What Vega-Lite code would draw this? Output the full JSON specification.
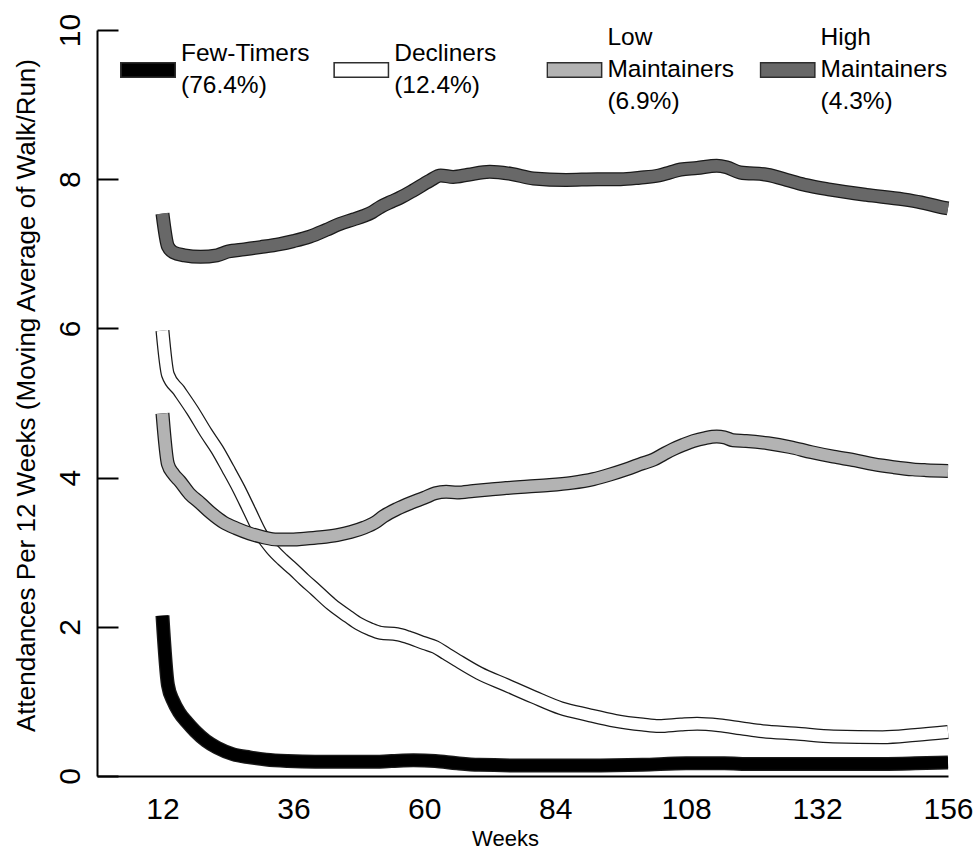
{
  "$schema": "https://vega.github.io/schema/vega-lite/v6.json",
  "width": 851,
  "height": 746,
  "autosize": {"type": "none"},
  "padding": {"left": 97, "top": 30, "right": 27, "bottom": 73},
  "background": "white",
  "config": {
    "view": {"stroke": null},
    "font": "Liberation Sans",
    "axis": {"grid": false, "labelFont": "Liberation Sans", "titleFont": "Liberation Sans", "labelColor": "#000", "titleColor": "#000", "domainColor": "#000", "tickColor": "#000", "titleFontWeight": "normal"},
    "legend": {"padding": 0, "titlePadding": 0},
    "style": {"guide-label": {"lineHeight": 16, "dy": -32}}
  },
  "data": {"values": [
    {"group": "Few-Timers", "week": 12, "value": 2.15},
    {"group": "Few-Timers", "week": 13, "value": 1.22},
    {"group": "Few-Timers", "week": 14, "value": 1.0},
    {"group": "Few-Timers", "week": 15, "value": 0.86},
    {"group": "Few-Timers", "week": 16.5, "value": 0.72},
    {"group": "Few-Timers", "week": 18, "value": 0.6},
    {"group": "Few-Timers", "week": 20, "value": 0.47},
    {"group": "Few-Timers", "week": 22, "value": 0.38},
    {"group": "Few-Timers", "week": 25, "value": 0.29},
    {"group": "Few-Timers", "week": 28, "value": 0.25},
    {"group": "Few-Timers", "week": 31, "value": 0.22},
    {"group": "Few-Timers", "week": 35, "value": 0.2},
    {"group": "Few-Timers", "week": 40, "value": 0.19},
    {"group": "Few-Timers", "week": 45, "value": 0.19},
    {"group": "Few-Timers", "week": 50, "value": 0.19},
    {"group": "Few-Timers", "week": 54, "value": 0.2},
    {"group": "Few-Timers", "week": 58, "value": 0.21},
    {"group": "Few-Timers", "week": 62, "value": 0.2},
    {"group": "Few-Timers", "week": 66, "value": 0.17},
    {"group": "Few-Timers", "week": 70, "value": 0.15},
    {"group": "Few-Timers", "week": 80, "value": 0.14},
    {"group": "Few-Timers", "week": 90, "value": 0.14},
    {"group": "Few-Timers", "week": 100, "value": 0.15},
    {"group": "Few-Timers", "week": 108, "value": 0.17},
    {"group": "Few-Timers", "week": 115, "value": 0.17},
    {"group": "Few-Timers", "week": 120, "value": 0.16},
    {"group": "Few-Timers", "week": 130, "value": 0.16},
    {"group": "Few-Timers", "week": 140, "value": 0.16},
    {"group": "Few-Timers", "week": 150, "value": 0.17},
    {"group": "Few-Timers", "week": 156, "value": 0.18},

    {"group": "Decliners", "week": 12, "value": 5.97},
    {"group": "Decliners", "week": 13, "value": 5.38},
    {"group": "Decliners", "week": 15, "value": 5.17},
    {"group": "Decliners", "week": 17.5, "value": 4.9},
    {"group": "Decliners", "week": 20, "value": 4.6},
    {"group": "Decliners", "week": 22, "value": 4.38},
    {"group": "Decliners", "week": 24, "value": 4.12},
    {"group": "Decliners", "week": 26, "value": 3.85},
    {"group": "Decliners", "week": 28, "value": 3.55},
    {"group": "Decliners", "week": 30, "value": 3.25},
    {"group": "Decliners", "week": 32, "value": 3.05},
    {"group": "Decliners", "week": 34, "value": 2.9},
    {"group": "Decliners", "week": 36, "value": 2.77},
    {"group": "Decliners", "week": 38, "value": 2.63},
    {"group": "Decliners", "week": 40, "value": 2.5},
    {"group": "Decliners", "week": 43, "value": 2.3},
    {"group": "Decliners", "week": 46, "value": 2.14},
    {"group": "Decliners", "week": 48, "value": 2.04},
    {"group": "Decliners", "week": 50, "value": 1.97},
    {"group": "Decliners", "week": 52, "value": 1.92},
    {"group": "Decliners", "week": 55, "value": 1.9},
    {"group": "Decliners", "week": 57, "value": 1.86},
    {"group": "Decliners", "week": 60, "value": 1.78},
    {"group": "Decliners", "week": 62, "value": 1.73},
    {"group": "Decliners", "week": 64, "value": 1.64},
    {"group": "Decliners", "week": 66, "value": 1.55},
    {"group": "Decliners", "week": 70, "value": 1.38},
    {"group": "Decliners", "week": 75, "value": 1.22},
    {"group": "Decliners", "week": 80, "value": 1.06},
    {"group": "Decliners", "week": 85, "value": 0.91},
    {"group": "Decliners", "week": 90, "value": 0.82},
    {"group": "Decliners", "week": 95, "value": 0.74},
    {"group": "Decliners", "week": 100, "value": 0.69},
    {"group": "Decliners", "week": 103, "value": 0.67},
    {"group": "Decliners", "week": 107, "value": 0.69},
    {"group": "Decliners", "week": 110, "value": 0.7},
    {"group": "Decliners", "week": 114, "value": 0.68},
    {"group": "Decliners", "week": 118, "value": 0.64},
    {"group": "Decliners", "week": 122, "value": 0.6},
    {"group": "Decliners", "week": 128, "value": 0.57},
    {"group": "Decliners", "week": 135, "value": 0.53},
    {"group": "Decliners", "week": 144, "value": 0.52},
    {"group": "Decliners", "week": 150, "value": 0.55},
    {"group": "Decliners", "week": 156, "value": 0.59},

    {"group": "Low Maintainers", "week": 12, "value": 4.86},
    {"group": "Low Maintainers", "week": 13, "value": 4.18},
    {"group": "Low Maintainers", "week": 14, "value": 4.05},
    {"group": "Low Maintainers", "week": 15.2, "value": 3.95},
    {"group": "Low Maintainers", "week": 17, "value": 3.78},
    {"group": "Low Maintainers", "week": 18.9, "value": 3.66},
    {"group": "Low Maintainers", "week": 21, "value": 3.52},
    {"group": "Low Maintainers", "week": 23.2, "value": 3.4},
    {"group": "Low Maintainers", "week": 25.5, "value": 3.32},
    {"group": "Low Maintainers", "week": 28, "value": 3.25},
    {"group": "Low Maintainers", "week": 30.5, "value": 3.2},
    {"group": "Low Maintainers", "week": 33, "value": 3.17},
    {"group": "Low Maintainers", "week": 36, "value": 3.17},
    {"group": "Low Maintainers", "week": 38, "value": 3.18},
    {"group": "Low Maintainers", "week": 41, "value": 3.2},
    {"group": "Low Maintainers", "week": 44, "value": 3.23},
    {"group": "Low Maintainers", "week": 46.5, "value": 3.27},
    {"group": "Low Maintainers", "week": 49, "value": 3.33},
    {"group": "Low Maintainers", "week": 51, "value": 3.4},
    {"group": "Low Maintainers", "week": 52.5, "value": 3.48},
    {"group": "Low Maintainers", "week": 55, "value": 3.58},
    {"group": "Low Maintainers", "week": 57.5, "value": 3.66},
    {"group": "Low Maintainers", "week": 60, "value": 3.73},
    {"group": "Low Maintainers", "week": 62, "value": 3.79},
    {"group": "Low Maintainers", "week": 64, "value": 3.81},
    {"group": "Low Maintainers", "week": 66, "value": 3.8},
    {"group": "Low Maintainers", "week": 69, "value": 3.82},
    {"group": "Low Maintainers", "week": 72, "value": 3.84},
    {"group": "Low Maintainers", "week": 75, "value": 3.86},
    {"group": "Low Maintainers", "week": 79, "value": 3.88},
    {"group": "Low Maintainers", "week": 83, "value": 3.9},
    {"group": "Low Maintainers", "week": 87, "value": 3.93},
    {"group": "Low Maintainers", "week": 91, "value": 3.98},
    {"group": "Low Maintainers", "week": 94, "value": 4.04},
    {"group": "Low Maintainers", "week": 97, "value": 4.11},
    {"group": "Low Maintainers", "week": 100, "value": 4.19},
    {"group": "Low Maintainers", "week": 102, "value": 4.24},
    {"group": "Low Maintainers", "week": 104, "value": 4.32},
    {"group": "Low Maintainers", "week": 105.6, "value": 4.38},
    {"group": "Low Maintainers", "week": 107.5, "value": 4.44},
    {"group": "Low Maintainers", "week": 109.3, "value": 4.49},
    {"group": "Low Maintainers", "week": 111.5, "value": 4.53},
    {"group": "Low Maintainers", "week": 113.6, "value": 4.55},
    {"group": "Low Maintainers", "week": 115, "value": 4.54},
    {"group": "Low Maintainers", "week": 116.6, "value": 4.5},
    {"group": "Low Maintainers", "week": 119, "value": 4.49},
    {"group": "Low Maintainers", "week": 123, "value": 4.46},
    {"group": "Low Maintainers", "week": 127, "value": 4.41},
    {"group": "Low Maintainers", "week": 131, "value": 4.34},
    {"group": "Low Maintainers", "week": 135, "value": 4.28},
    {"group": "Low Maintainers", "week": 139, "value": 4.23},
    {"group": "Low Maintainers", "week": 142.3, "value": 4.18},
    {"group": "Low Maintainers", "week": 146, "value": 4.14},
    {"group": "Low Maintainers", "week": 149.6, "value": 4.11},
    {"group": "Low Maintainers", "week": 152, "value": 4.1},
    {"group": "Low Maintainers", "week": 156, "value": 4.09},

    {"group": "High Maintainers", "week": 12, "value": 7.54},
    {"group": "High Maintainers", "week": 13, "value": 7.1},
    {"group": "High Maintainers", "week": 14, "value": 7.02},
    {"group": "High Maintainers", "week": 16, "value": 6.98},
    {"group": "High Maintainers", "week": 19, "value": 6.96},
    {"group": "High Maintainers", "week": 22, "value": 6.98},
    {"group": "High Maintainers", "week": 24, "value": 7.03},
    {"group": "High Maintainers", "week": 27, "value": 7.06},
    {"group": "High Maintainers", "week": 30, "value": 7.09},
    {"group": "High Maintainers", "week": 33.5, "value": 7.13},
    {"group": "High Maintainers", "week": 36, "value": 7.17},
    {"group": "High Maintainers", "week": 39, "value": 7.23},
    {"group": "High Maintainers", "week": 42, "value": 7.32},
    {"group": "High Maintainers", "week": 44.5, "value": 7.4},
    {"group": "High Maintainers", "week": 47, "value": 7.46},
    {"group": "High Maintainers", "week": 49, "value": 7.51},
    {"group": "High Maintainers", "week": 50.5, "value": 7.56},
    {"group": "High Maintainers", "week": 52, "value": 7.63},
    {"group": "High Maintainers", "week": 54, "value": 7.7},
    {"group": "High Maintainers", "week": 55.5, "value": 7.75},
    {"group": "High Maintainers", "week": 58, "value": 7.85},
    {"group": "High Maintainers", "week": 61, "value": 7.98},
    {"group": "High Maintainers", "week": 63, "value": 8.05},
    {"group": "High Maintainers", "week": 65.3, "value": 8.03},
    {"group": "High Maintainers", "week": 68, "value": 8.06},
    {"group": "High Maintainers", "week": 72, "value": 8.1},
    {"group": "High Maintainers", "week": 76, "value": 8.07},
    {"group": "High Maintainers", "week": 80, "value": 8.01},
    {"group": "High Maintainers", "week": 86, "value": 7.99},
    {"group": "High Maintainers", "week": 91.7, "value": 8.0},
    {"group": "High Maintainers", "week": 96, "value": 8.0},
    {"group": "High Maintainers", "week": 99.5, "value": 8.02},
    {"group": "High Maintainers", "week": 103, "value": 8.05},
    {"group": "High Maintainers", "week": 105, "value": 8.09},
    {"group": "High Maintainers", "week": 107, "value": 8.13},
    {"group": "High Maintainers", "week": 110, "value": 8.15},
    {"group": "High Maintainers", "week": 113.6, "value": 8.18},
    {"group": "High Maintainers", "week": 115.4, "value": 8.16},
    {"group": "High Maintainers", "week": 117.9, "value": 8.09},
    {"group": "High Maintainers", "week": 122.8, "value": 8.06},
    {"group": "High Maintainers", "week": 127, "value": 7.98},
    {"group": "High Maintainers", "week": 130, "value": 7.92},
    {"group": "High Maintainers", "week": 134.4, "value": 7.86},
    {"group": "High Maintainers", "week": 141, "value": 7.79},
    {"group": "High Maintainers", "week": 147.8, "value": 7.73},
    {"group": "High Maintainers", "week": 151, "value": 7.69},
    {"group": "High Maintainers", "week": 154.5, "value": 7.63},
    {"group": "High Maintainers", "week": 156, "value": 7.61}
  ]},
  "encoding": {
    "x": {
      "field": "week", "type": "quantitative",
      "scale": {"domain": [0, 156], "nice": false, "zero": false},
      "axis": {
        "values": [12, 36, 60, 84, 108, 132, 156],
        "ticks": false, "domainWidth": 2,
        "labelFontSize": 30, "labelPadding": 50, "labelFlush": false, "labelOverlap": false,
        "title": "Weeks", "titleFontSize": 22, "titlePadding": -30, "titleX": 408, "titleY": 52, "titleBaseline": "top"
      }
    },
    "y": {
      "field": "value", "type": "quantitative",
      "scale": {"domain": [0, 10], "nice": false, "zero": false},
      "axis": {
        "values": [0, 2, 4, 6, 8, 10],
        "tickSize": -21, "tickWidth": 2, "domainWidth": 2,
        "labelAngle": -90, "labelAlign": "center", "labelBaseline": "bottom",
        "labelFontSize": 30, "labelPadding": 1, "labelOverlap": false, "labelFlush": false,
        "title": "Attendances Per 12 Weeks (Moving Average of Walk/Run)",
        "titleFontSize": 26, "titleX": -58, "titleY": 365, "titleAlign": "center", "titleBaseline": "bottom", "titleAngle": 270
      }
    },
    "stroke": {
      "field": "group", "type": "nominal",
      "scale": {"domain": ["Few-Timers", "Decliners", "Low Maintainers", "High Maintainers"], "range": ["#000000", "#ffffff", "#b3b3b3", "#686868"]},
      "legend": null
    }
  },
  "layer": [
    {
      "transform": [{"filter": "datum.week === 12"}],
      "mark": {"type": "point", "filled": true, "opacity": 0, "size": 1},
      "encoding": {
        "stroke": {"value": "transparent"},
        "fill": {
          "field": "group", "type": "nominal",
          "scale": {"domain": ["High Maintainers", "Low Maintainers", "Decliners", "Few-Timers"], "range": ["#2e2e2e", "#2e2e2e", "#2e2e2e", "#2e2e2e"]},
          "legend": {
            "values": ["Few-Timers", "Decliners", "Low Maintainers", "High Maintainers"],
            "orient": "none", "legendX": 23, "legendY": -10, "zindex": 0,
            "direction": "horizontal", "columns": 4, "gridAlign": "all", "columnPadding": 25.2,
            "title": null, "clipHeight": 100,
            "symbolType": "M-1,-0.2857L1,-0.2857L1,0.2857L-1,0.2857Z", "symbolSize": 3136,
            "symbolOpacity": 1, "symbolStrokeWidth": 0,
            "labelFontSize": 24.5, "labelFont": "Liberation Sans", "labelColor": "#000", "labelOpacity": 0,
            "labelOffset": 3.5, "labelLimit": 300, "labelBaseline": "middle",
            "labelExpr": "datum.label === 'Few-Timers' ? ['\u2800', 'Few-Timers', '\u2800', '(76.4%)', '\u2800'] : datum.label === 'Decliners' ? ['\u2800', 'Decliners', '\u2800', '(12.4%)', '\u2800'] : datum.label === 'Low Maintainers' ? ['Low', '\u2800', 'Maintainers', '\u2800', '(6.9%)'] : ['High', '\u2800', 'Maintainers', '\u2800', '(4.3%)']",
            "encode": {
              "symbols": {"update": {"opacity": {"value": 1}, "fillOpacity": {"value": 1}, "strokeWidth": {"value": 0}}},
              "labels": {"update": {"opacity": {"value": 0}, "lineHeight": {"value": 16}, "dy": {"value": -32}}}
            }
          }
        }
      }
    },
    {
      "transform": [{"filter": "datum.week === 12"}],
      "mark": {"type": "point", "filled": true, "opacity": 0, "size": 1},
      "encoding": {
        "stroke": {"value": "transparent"},
        "color": {
          "field": "group", "type": "nominal",
          "scale": {"domain": ["Few-Timers", "Decliners", "Low Maintainers", "High Maintainers"], "range": ["#000000", "#ffffff", "#b3b3b3", "#686868"]},
          "legend": {
            "orient": "none", "legendX": 24.5, "legendY": -10, "zindex": 1,
            "direction": "horizontal", "columns": 4, "gridAlign": "all", "columnPadding": 25.2,
            "title": null, "clipHeight": 100,
            "symbolType": "M-1,-0.245L1,-0.245L1,0.245L-1,0.245Z", "symbolSize": 2809,
            "symbolOpacity": 1, "symbolStrokeWidth": 0,
            "labelFontSize": 24.5, "labelFont": "Liberation Sans", "labelColor": "#000",
            "labelOffset": 6.5, "labelLimit": 300, "labelBaseline": "middle",
            "labelExpr": "datum.label === 'Few-Timers' ? ['\u2800', 'Few-Timers', '\u2800', '(76.4%)', '\u2800'] : datum.label === 'Decliners' ? ['\u2800', 'Decliners', '\u2800', '(12.4%)', '\u2800'] : datum.label === 'Low Maintainers' ? ['Low', '\u2800', 'Maintainers', '\u2800', '(6.9%)'] : ['High', '\u2800', 'Maintainers', '\u2800', '(4.3%)']",
            "encode": {
              "symbols": {"update": {"opacity": {"value": 1}, "fillOpacity": {"value": 1}, "strokeWidth": {"value": 0}}},
              "labels": {"update": {"lineHeight": {"value": 16}, "dy": {"value": -32}}}
            }
          }
        }
      }
    },
    {"transform": [{"filter": "datum.group === 'Few-Timers'"}], "mark": {"type": "line", "strokeWidth": 14, "strokeCap": "butt", "strokeJoin": "round", "interpolate": "monotone"}, "encoding": {"stroke": {"value": "#1a1a1a"}}},
    {"transform": [{"filter": "datum.group === 'Few-Timers'"}], "mark": {"type": "line", "strokeWidth": 11.5, "strokeCap": "butt", "strokeJoin": "round", "interpolate": "monotone"}},
    {"transform": [{"filter": "datum.group === 'Decliners'"}], "mark": {"type": "line", "strokeWidth": 14, "strokeCap": "butt", "strokeJoin": "round", "interpolate": "monotone"}, "encoding": {"stroke": {"value": "#1a1a1a"}}},
    {"transform": [{"filter": "datum.group === 'Decliners'"}], "mark": {"type": "line", "strokeWidth": 11.5, "strokeCap": "butt", "strokeJoin": "round", "interpolate": "monotone"}},
    {"transform": [{"filter": "datum.group === 'Low Maintainers'"}], "mark": {"type": "line", "strokeWidth": 14, "strokeCap": "butt", "strokeJoin": "round", "interpolate": "monotone"}, "encoding": {"stroke": {"value": "#1a1a1a"}}},
    {"transform": [{"filter": "datum.group === 'Low Maintainers'"}], "mark": {"type": "line", "strokeWidth": 11.5, "strokeCap": "butt", "strokeJoin": "round", "interpolate": "monotone"}},
    {"transform": [{"filter": "datum.group === 'High Maintainers'"}], "mark": {"type": "line", "strokeWidth": 14, "strokeCap": "butt", "strokeJoin": "round", "interpolate": "monotone"}, "encoding": {"stroke": {"value": "#1a1a1a"}}},
    {"transform": [{"filter": "datum.group === 'High Maintainers'"}], "mark": {"type": "line", "strokeWidth": 11.5, "strokeCap": "butt", "strokeJoin": "round", "interpolate": "monotone"}}
  ]
}
